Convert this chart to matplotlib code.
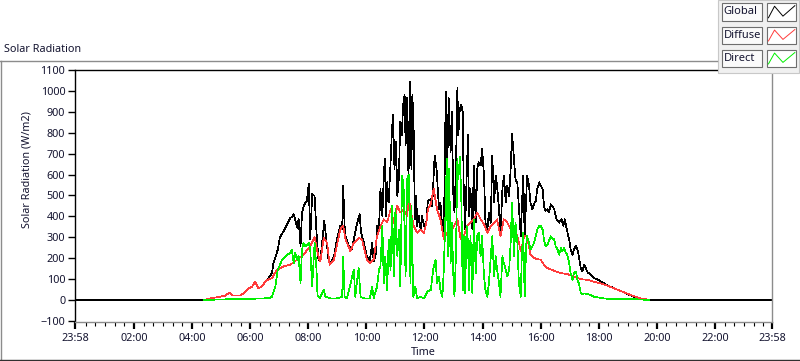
import matplotlib
matplotlib.use('Agg')
import matplotlib.pyplot as plt
from matplotlib.patches import Rectangle
from matplotlib.lines import Line2D

plt.rcParams['font.family'] = ['Noto Sans', 'DejaVu Sans']

# ---- data (time in minutes since midnight, values in W/m2) ----
global_t = [-2, 264, 277, 298, 308, 317, 324, 339, 346, 357, 364, 370, 377, 384, 391, 398, 405, 408, 417, 421,
            429, 436, 443, 446, 450, 457, 460, 464, 467, 472, 477, 481, 484, 488, 493, 497, 501,
            505, 513, 517, 522, 526, 533, 539, 546, 550, 552, 555, 557, 564, 570, 574, 581, 586, 589, 595, 601,
            607, 612, 615, 619, 622, 626, 629, 633, 636, 638, 641, 643, 646, 650, 653, 655, 658, 661, 664, 667,
            670, 673, 676, 679, 681, 684, 687, 690, 693, 695, 698, 700, 703, 705, 708, 712, 715, 719, 724, 727,
            733, 736, 741, 745, 750, 753, 757, 760, 764, 767, 770, 774, 777, 779, 782, 785, 788, 790, 793, 796,
            799, 801, 804, 807, 810, 812, 815, 819, 822, 826, 829, 832, 836, 839, 843, 846, 850, 853, 857, 860,
            864, 867, 870, 874, 877, 881, 884, 888, 891, 895, 898, 901, 905, 908, 912, 915, 919, 921, 924, 927,
            929, 932, 936, 939, 943, 946, 950, 953, 957,
            960, 964, 967, 970, 974, 977, 981, 984, 988, 993, 998, 1003, 1007, 1010, 1014, 1019, 1022, 1026, 1029, 1033,
            1036, 1039, 1043, 1046, 1050, 1057, 1064, 1070, 1077, 1084, 1091, 1098, 1112, 1126, 1139, 1153, 1167, 1181, 1184, 1438]
global_v = [0, 0, 8, 16, 21, 35, 21, 21, 32, 56, 64, 88, 56, 64, 88, 105, 129, 177, 241, 297,
            330, 362, 394, 394, 410, 346, 386, 257, 418, 458, 474, 555, 289, 506, 498, 322, 193,
            193, 378, 297, 185, 177, 209, 289, 354, 338, 547, 354, 305, 257, 241, 289, 370, 410, 322, 273, 209,
            185, 273, 185, 209, 354, 338, 531, 402, 595, 675, 402, 563, 466, 659, 820, 884, 627, 756, 498, 579,
            852, 788, 932, 981, 740, 965, 579, 1045, 627, 981, 788, 386, 498, 354, 402, 338, 402, 354, 378, 474,
            482, 450, 691, 627, 434, 466, 338, 305, 997, 627, 965, 707, 900, 531, 418, 627, 1013, 788, 916, 932,
            900, 547, 338, 579, 788, 402, 531, 338, 643, 370, 627, 659, 643, 723, 595, 370, 338, 418, 370, 691,
            466, 595, 547, 434, 310, 531, 595, 466, 547, 498, 627, 796, 675, 579, 555, 450, 305, 434, 595, 310,
            418, 595, 547, 466, 434, 458, 474, 531, 563,
            547, 531, 450, 426, 434, 418, 458, 450, 434, 386, 370, 386, 354, 386, 338, 289, 241, 217, 241, 260,
            241, 209, 153, 137, 169, 132, 121, 105, 100, 88, 80, 71, 56, 43, 29, 16, 6, 2, 0, 0]

diffuse_t = [264, 277, 298, 308, 317, 324, 339, 346, 357, 364, 370, 377, 384, 391, 398, 405, 415, 429, 443, 457,
             470, 484, 493, 498, 503,
             505, 512, 519, 524, 533, 546, 552, 557, 567, 574, 584, 591, 601, 608, 615, 622, 629, 636, 643, 650,
             657, 664, 670, 677, 684, 688, 691, 698, 705, 712, 719, 724, 727,
             733, 739, 746, 753, 760, 767, 774, 781, 788, 795, 801, 808, 815, 822, 829, 836, 843, 850, 857, 864,
             870, 877, 884, 891, 898, 905, 912, 919, 926, 932, 939, 946, 953,
             960, 967, 974, 988, 1002, 1015, 1029, 1043, 1057, 1070, 1084, 1098, 1112, 1126, 1139, 1153, 1167, 1181, 1184]
diffuse_v = [0, 8, 16, 21, 35, 21, 21, 32, 56, 64, 88, 56, 64, 88, 100, 105, 145, 161, 169, 193,
             217, 257, 302, 241, 193,
             185, 297, 273, 169, 193, 338, 354, 289, 233, 273, 297, 289, 193, 177, 193, 305, 354, 386, 370, 434,
             370, 450, 418, 434, 402, 482, 434, 354, 322, 338, 322, 370, 434,
             458, 531, 434, 386, 289, 322, 330, 354, 386, 289, 305, 354, 370, 386, 418, 386, 362, 322, 354, 370,
             386, 305, 386, 370, 338, 338, 305, 233, 305, 305, 217, 201, 196,
             193, 169, 153, 140, 129, 124, 113, 100, 96, 88, 80, 69, 56, 43, 31, 18, 8, 2, 0]

direct_t = [264, 300, 350, 390, 400, 405, 412, 417, 426, 436, 443, 446, 450, 453, 457, 460, 464, 467, 470, 474,
            481, 484, 488, 493, 497, 499, 504,
            505, 512, 515, 526, 539, 550, 552, 555, 560, 574, 577, 584, 588, 595, 607, 612, 615, 622, 626, 629,
            633, 636, 639, 643, 646, 650, 653, 657, 660, 664, 667, 670, 674, 677, 681, 684, 688, 691, 693, 697,
            701, 705, 712, 719, 726, 733,
            738, 743, 746, 750, 753, 757, 760, 764, 766, 768, 771, 774, 777, 779, 782, 785, 788, 790, 793, 796,
            799, 801, 804, 807, 810, 812, 815, 819, 822, 826, 829, 832, 836, 839, 843, 846, 850, 853, 857, 860,
            864, 867, 870, 874, 877, 881, 884, 888, 891, 895, 898, 901, 905, 908, 912, 915, 919, 921, 924, 927,
            930, 932, 936, 939, 943, 946, 950, 953, 957,
            960, 964, 967, 970, 974, 977, 981, 984, 988, 991, 995, 998, 1002, 1005, 1008, 1012, 1015, 1019, 1022, 1026,
            1029, 1033, 1036, 1039, 1043, 1046, 1050, 1057, 1064, 1070, 1077, 1084, 1098, 1126, 1167, 1184]
direct_v = [0, 3, 5, 8, 10, 16, 64, 145, 193, 217, 225, 241, 177, 225, 193, 209, 80, 241, 273, 257,
            273, 241, 64, 273, 145, 24, 8,
            16, 48, 16, 8, 8, 16, 209, 16, 8, 145, 16, 153, 16, 8, 8, 64, 8, 64, 145, 161,
            354, 80, 209, 48, 289, 145, 450, 113, 434, 209, 338, 64, 595, 531, 113, 579, 600, 80, 450, 16,
            64, 8, 16, 8, 40, 48,
            145, 193, 80, 113, 48, 16, 145, 466, 675, 209, 627, 177, 370, 145, 16, 209, 675, 579, 683, 498,
            48, 305, 32, 354, 273, 48, 305, 32, 386, 129, 305, 322, 209, 305, 113, 48, 16, 80, 209, 305,
            113, 209, 145, 80, 16, 209, 177, 145, 113, 145, 273, 466, 209, 370, 273, 80, 16, 209, 322, 16,
            257, 305, 273, 241, 257, 273, 305, 338, 354,
            354, 338, 289, 257, 265, 281, 305, 297, 289, 257, 241, 217, 249, 233, 249, 225, 217, 177, 129, 96,
            129, 137, 96, 80, 32, 29, 32, 29, 23, 16, 13, 10, 6, 5, 3, 0]

x_tick_pos = [-2, 120, 240, 360, 480, 600, 720, 840, 960, 1080, 1200, 1320, 1438]
x_tick_labels = ['23:58', '02:00', '04:00', '06:00', '08:00', '10:00', '12:00',
                 '14:00', '16:00', '18:00', '20:00', '22:00', '23:58']
y_ticks = list(range(-100, 1101, 100))
series_names = ['Global', 'Diffuse', 'Direct']
series_colors = ['#000000', '#ff3b3b', '#00f000']

# ---- figure ----
W, H = 800, 361
fig = plt.figure(figsize=(W / 100, H / 100), dpi=100)
fig.patch.set_facecolor('white')

def fx(px):
    return px / W

def fy(py):
    return 1 - py / H

txt_color = '#141430'

ax = fig.add_axes([fx(75), fy(322), (772 - 75) / W, (322 - 70) / H])
ax.plot(global_t, global_v, color=series_colors[0], lw=0.5, antialiased=False)
ax.plot(diffuse_t, diffuse_v, color=series_colors[1], lw=0.5, antialiased=False)
ax.plot(direct_t, direct_v, color=series_colors[2], lw=0.5, antialiased=False)
ax.set_xlim(-2, 1438)
ax.set_ylim(-105, 1100)

ax.set_yticks(y_ticks)
ax.set_xticks(x_tick_pos)
ax.set_xticklabels(x_tick_labels)
ax.set_xticks([m for m in range(20, 1438, 20) if m % 120 != 0], minor=True)
ax.tick_params(axis='y', direction='out', length=5, width=1, labelsize=7.8,
               labelcolor=txt_color, pad=2)
ax.tick_params(axis='x', which='major', direction='out', length=5, width=1.6,
               labelsize=7.8, labelcolor=txt_color, pad=3)
ax.tick_params(axis='x', which='minor', direction='out', length=3, width=0.8)

for side in ['left', 'top']:
    ax.spines[side].set_color('black')
    ax.spines[side].set_linewidth(1.0)
for side in ['right', 'bottom']:
    ax.spines[side].set_color('#8c8c8c')
    ax.spines[side].set_linewidth(1.0)

ax.set_xlabel('Time', fontsize=7.8, color=txt_color, labelpad=2)
ax.set_ylabel('Solar Radiation (W/m2)', fontsize=7.8, color=txt_color)
ax.yaxis.set_label_coords((33 - 75) / 697, (322 - 170) / 252)

# ---- outer frame ----
fig.add_artist(Line2D([fx(0), fx(717)], [fy(61), fy(61)], color='#8c8c8c', lw=1.0,
                      transform=fig.transFigure))
fig.add_artist(Line2D([fx(0.5), fx(0.5)], [fy(61), fy(360)], color='#8c8c8c', lw=1.0,
                      transform=fig.transFigure))
fig.add_artist(Line2D([fx(0), fx(800)], [fy(359.5), fy(359.5)], color='#303030', lw=1.0,
                      transform=fig.transFigure))

fig.text(fx(4), fy(50), 'Solar Radiation', fontsize=7.8, color=txt_color, va='center', ha='left')

# ---- legend panel ----
fig.add_artist(Rectangle((fx(717.5), fy(73)), (799 - 717.5) / W, 73 / H, transform=fig.transFigure,
                         facecolor='#f0f0f0', edgecolor='#c8c8c8', lw=0.8))
rows = [(3, 21), (27, 44), (50, 67)]
for (y0, y1), name, col in zip(rows, series_names, series_colors):
    fig.add_artist(Rectangle((fx(722), fy(y1)), 40 / W, (y1 - y0) / H, transform=fig.transFigure,
                             facecolor='#fafafa', edgecolor='#6e6e6e', lw=0.8))
    fig.text(fx(723.5), fy((y0 + y1) / 2), name, fontsize=8.0, color=txt_color, va='center', ha='left')
    fig.add_artist(Rectangle((fx(767), fy(y1)), 29 / W, (y1 - y0) / H, transform=fig.transFigure,
                             facecolor='white', edgecolor='#6e6e6e', lw=0.8))
    bx = [0.05, 0.26, 0.55, 0.96]
    by = [0.18, 0.82, 0.27, 0.85]
    fig.add_artist(Line2D([fx(767 + 29 * b) for b in bx],
                          [fy(y1 - (y1 - y0) * b) for b in by],
                          color=col, lw=0.7, transform=fig.transFigure))

fig.savefig('out.png', dpi=100, facecolor='white')
